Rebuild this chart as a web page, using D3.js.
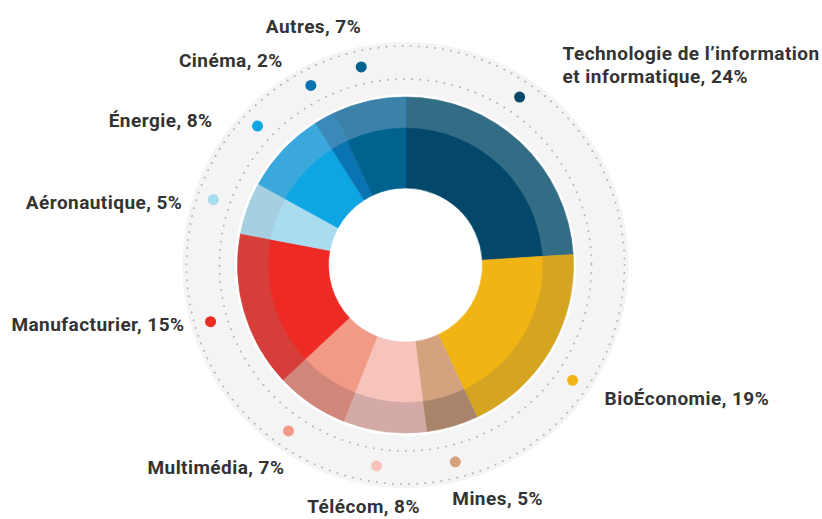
<!DOCTYPE html>
<html>
<head>
<meta charset="utf-8">
<script src="https://cdn.jsdelivr.net/npm/d3@7.9.0/dist/d3.min.js"></script>
<style>
  html, body { margin: 0; padding: 0; background: #fff; }
  svg { display: block; }
  .label { font-family: Roboto, "Noto Sans", sans-serif; font-weight: 700; font-size: 19px; letter-spacing: 0.45px; fill: #333; }
</style>
</head>
<body>
<svg width="822" height="519"></svg>
<script>
// sectors, in drawing order (clockwise from 12 o'clock)
const sectors = ['Technologie de l\u2019information et informatique', 'BioÉconomie', 'Mines', 'Télécom',
  'Multimédia', 'Manufacturier', 'Aéronautique', 'Énergie', 'Cinéma', 'Autres'];
const shares = [24, 19, 5, 8, 7, 15, 5, 8, 2, 7];
const innerColors = ['#03486a', '#f0b414', '#d4a27e', '#f7c4bb', '#f39a86', '#ee2a24', '#a9dcef', '#0ea5e3', '#0a73b2', '#00628f'];
const outerColors = ['#336c85', '#d5a522', '#a8856a', '#d3aaa6', '#d08679', '#d53e39', '#a6d0e1', '#3aa8dc', '#3b88bb', '#3b82ab'];

// label layout: dot angle shift (deg), text offset from the dot, anchor
const labelLayout = [
  { shift: -9, dx: 43, dy: -37, anchor: 'start', lines: ['Technologie de l\u2019information', 'et informatique, 24%'] },
  { shift: 4, dx: 32, dy: 25, anchor: 'start' },
  { shift: 2, dx: -3, dy: 43, anchor: 'start' },
  { shift: 1, dx: -13, dy: 47, anchor: 'middle' },
  { shift: 1, dx: -4, dy: 43, anchor: 'end' },
  { shift: 0, dx: -26, dy: 9, anchor: 'end' },
  { shift: -1, dx: -31, dy: 9, anchor: 'end' },
  { shift: 0, dx: -45, dy: 1, anchor: 'end' },
  { shift: 1, dx: -28, dy: -18, anchor: 'end' },
  { shift: 0, dx: 0, dy: -34, anchor: 'end' }
];

const cx = 405.5, cy = 265;
const rHole = 77, rSplit = 138, rOuter = 168;
const rBandIn = 171, rBandOut = 223, rDotIn = 186, rDotOut = 219, rMarker = 203;

const data = sectors.map((s, i) => ({ name: s, value: shares[i], i: i }));
const pie = d3.pie().value(d => d.value).sort(null);
const arcs = pie(data);

const svg = d3.select('svg');
const g = svg.append('g').attr('transform', `translate(${cx},${cy})`);

// grey band behind with dotted circles
g.append('path')
  .attr('d', d3.arc().innerRadius(rBandIn).outerRadius(rBandOut)({ startAngle: 0, endAngle: 2 * Math.PI }))
  .attr('fill', '#f4f4f4');

[rDotIn, rDotOut].forEach(r => {
  g.append('circle')
    .attr('r', r)
    .attr('fill', 'none')
    .attr('stroke', '#b9b9b9')
    .attr('stroke-width', 2)
    .attr('stroke-linecap', 'round')
    .attr('stroke-dasharray', '0.1 8');
});

// donut: inner saturated ring + outer muted ring
const innerArc = d3.arc().innerRadius(rHole).outerRadius(rSplit);
const outerArc = d3.arc().innerRadius(rSplit - 0.5).outerRadius(rOuter);

g.selectAll('path.inner')
  .data(arcs)
  .join('path')
  .attr('class', 'inner')
  .attr('d', innerArc)
  .attr('fill', d => innerColors[d.data.i])
  .attr('stroke', d => innerColors[d.data.i])
  .attr('stroke-width', 0.6);

g.selectAll('path.outer')
  .data(arcs)
  .join('path')
  .attr('class', 'outer')
  .attr('d', outerArc)
  .attr('fill', d => outerColors[d.data.i])
  .attr('stroke', d => outerColors[d.data.i])
  .attr('stroke-width', 0.6);

// markers and labels
arcs.forEach(d => {
  const lay = labelLayout[d.data.i];
  const a = (d.startAngle + d.endAngle) / 2 + lay.shift * Math.PI / 180;
  const x = rMarker * Math.sin(a);
  const y = -rMarker * Math.cos(a);

  g.append('circle')
    .attr('cx', x)
    .attr('cy', y)
    .attr('r', 5.5)
    .attr('fill', innerColors[d.data.i]);

  const lines = lay.lines || [`${d.data.name}, ${d.data.value}%`];
  const t = g.append('text')
    .attr('class', 'label')
    .attr('text-anchor', lay.anchor)
    .attr('x', x + lay.dx)
    .attr('y', y + lay.dy);
  lines.forEach((ln, k) => {
    t.append('tspan')
      .attr('x', x + lay.dx)
      .attr('dy', k === 0 ? 0 : 23)
      .text(ln);
  });
});
</script>
</body>
</html>
